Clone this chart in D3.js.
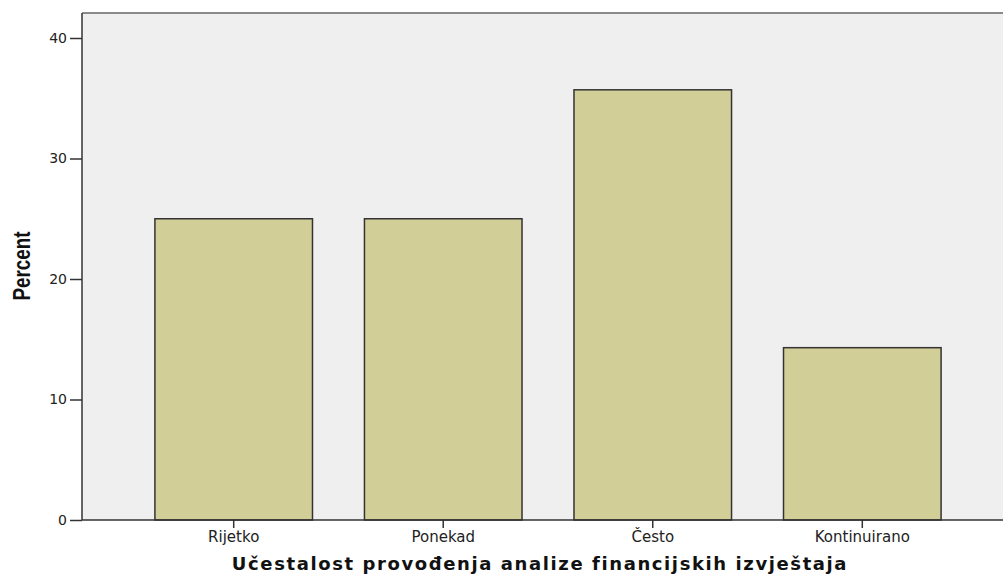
<!DOCTYPE html>
<html>
<head>
<meta charset="utf-8">
<script src="https://cdnjs.cloudflare.com/ajax/libs/d3/7.8.5/d3.min.js"></script>
<style>
  body { margin: 0; background: #fff; }
  svg { display: block; }
</style>
</head>
<body>
<div id="chart"></div>
<script>
// data
var categories = ['Rijetko', 'Ponekad', 'Često', 'Kontinuirano'];
var percents = [25.0, 25.0, 35.7, 14.3];
var yTicks = [0, 10, 20, 30, 40];
var xTitle = 'Učestalost provođenja analize financijskih izvještaja';
var yTitle = 'Percent';

var width = 1003, height = 577;
var plotLeft = 82, plotTop = 13, plotBottom = 520, plotRight = 1014;

var svg = d3.select('#chart').append('svg')
    .attr('width', width)
    .attr('height', height);

var scaleX = d3.scaleBand()
    .domain(categories)
    .range([plotLeft, plotRight])
    .paddingInner(0.248)
    .paddingOuter(0.348);

var scaleY = d3.scaleLinear()
    .domain([0, 40])
    .range([plotBottom, 38]);

// plot background
svg.append('rect')
    .attr('x', plotLeft)
    .attr('y', plotTop)
    .attr('width', plotRight - plotLeft)
    .attr('height', plotBottom - plotTop)
    .attr('fill', '#efefef');

// top frame line
svg.append('line')
    .attr('x1', plotLeft).attr('x2', plotRight)
    .attr('y1', plotTop).attr('y2', plotTop)
    .attr('stroke', '#8a8a8a')
    .attr('stroke-width', 2);

// bars
svg.selectAll('.bar')
    .data(categories)
    .enter()
    .append('rect')
    .attr('class', 'bar')
    .attr('x', function(d) { return scaleX(d); })
    .attr('width', scaleX.bandwidth())
    .attr('y', function(d, i) { return scaleY(percents[i]); })
    .attr('height', function(d, i) { return plotBottom - scaleY(percents[i]); })
    .attr('fill', '#d2ce97')
    .attr('stroke', '#333')
    .attr('stroke-width', 1.5);

// y axis
var yAxis = svg.append('g')
    .attr('transform', 'translate(' + plotLeft + ',0)')
    .call(d3.axisLeft(scaleY).tickValues(yTicks).tickSize(12).tickPadding(3).tickSizeOuter(0));
yAxis.select('.domain').remove();
yAxis.append('line')
    .attr('x1', 0).attr('x2', 0)
    .attr('y1', plotTop).attr('y2', plotBottom)
    .attr('stroke', '#333').attr('stroke-width', 1.5);
yAxis.selectAll('.tick text').style('font-size', '14px');

// x axis
var xAxis = svg.append('g')
    .attr('transform', 'translate(0,' + plotBottom + ')')
    .call(d3.axisBottom(scaleX).tickSize(8).tickPadding(3).tickSizeOuter(0));
xAxis.select('.domain').remove();
xAxis.append('line')
    .attr('x1', plotLeft).attr('x2', plotRight)
    .attr('y1', 0).attr('y2', 0)
    .attr('stroke', '#333').attr('stroke-width', 1.5);
xAxis.selectAll('.tick text').style('font-size', '15px');

svg.selectAll('.tick line').attr('stroke', '#333').attr('stroke-width', 1.5);
svg.selectAll('.tick text')
    .attr('fill', '#222')
    .style('font-family', '"DejaVu Sans", Verdana, sans-serif');

// axis titles
svg.append('text')
    .attr('x', 540)
    .attr('y', 570)
    .attr('text-anchor', 'middle')
    .style('font-family', '"DejaVu Sans", Verdana, sans-serif')
    .style('font-weight', 'bold')
    .style('font-size', '18px')
    .style('letter-spacing', '1.6px')
    .attr('fill', '#111')
    .text(xTitle);

// narrow bold look: squeeze along the text direction
svg.append('text')
    .attr('transform', 'translate(30,266) rotate(-90) scale(0.82,1)')
    .attr('text-anchor', 'middle')
    .style('font-family', '"Liberation Sans", Arial, sans-serif')
    .style('font-weight', 'bold')
    .style('font-size', '23px')
    .attr('fill', '#111')
    .text(yTitle);
</script>
</body>
</html>
